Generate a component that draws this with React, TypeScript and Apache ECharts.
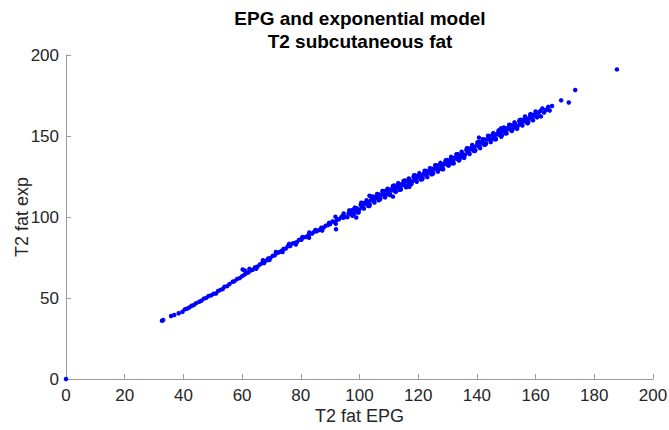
import React, { useEffect, useRef } from "react";
import * as echarts from "echarts";

const titleLines = ["EPG and exponential model", "T2 subcutaneous fat"];
const xAxisName = "T2 fat EPG";
const yAxisName = "T2 fat exp";
const xTicks = { min: 0, max: 200, interval: 20 };
const yTicks = { min: 0, max: 200, interval: 50 };

// [T2 fat EPG, T2 fat exp]
const originPoint = [[0, 0]];

const lowRange = [
  [32.7, 36.0], [33.1, 36.4], [35.8, 38.9], [36.9, 39.5], [38.4, 40.6], [39.7, 41.5],
  [40.5, 43.0], [41.2, 43.4], [42.0, 44.1], [42.8, 45.2], [43.5, 45.6], [44.3, 46.8],
  [45.4, 47.7], [46.1, 48.3], [47.0, 49.6], [47.8, 50.1], [48.6, 51.2], [49.5, 51.7],
  [50.3, 52.6], [51.1, 52.8], [51.8, 54.3], [52.6, 55.0], [53.4, 55.6], [54.0, 56.9],
  [54.9, 57.3], [55.7, 58.6], [56.8, 60.0], [57.4, 60.4], [58.3, 61.7], [59.2, 62.3],
  [60.0, 63.5],
];

const midRange = [
  [60.8, 64.4], [61.3, 65.2], [62.1, 65.7], [62.9, 67.0], [63.6, 67.4], [64.4, 68.9],
  [65.2, 69.3], [66.0, 70.6], [66.7, 71.4], [67.5, 71.6], [68.2, 73.1], [68.9, 74.4],
  [69.6, 74.6], [70.4, 76.0], [71.1, 76.3], [71.9, 77.8], [72.6, 78.2], [73.4, 79.0],
  [74.1, 80.3], [74.9, 80.6], [75.6, 81.9], [76.4, 82.1], [77.2, 83.7], [77.9, 84.0],
  [78.7, 84.6], [79.4, 85.9], [80.2, 86.0], [80.9, 87.4], [81.6, 87.6], [82.4, 88.5],
  [83.1, 89.6], [83.9, 89.8], [84.6, 91.0], [85.4, 91.2], [86.3, 92.0], [87.0, 93.4],
  [87.8, 93.5], [88.5, 94.6], [89.3, 95.0], [90.0, 95.7], [90.8, 97.3], [91.5, 96.9],
  [92.3, 98.3], [93.0, 98.6], [93.8, 99.9], [94.5, 99.5], [95.4, 100.2],
];

const midSpread = [
  [62.5, 68.0], [64.8, 68.1], [67.1, 73.3], [69.3, 73.4], [71.5, 78.4], [73.8, 78.4],
  [76.0, 83.4], [78.3, 83.0], [80.5, 87.6], [82.8, 87.2], [85.0, 92.0], [87.3, 91.6],
  [89.6, 96.4], [91.9, 95.8], [94.1, 100.5],
];

const denseRange = [
  [95.9, 99.9], [96.3, 102.3], [96.8, 102.1], [97.2, 101.8], [97.7, 104.4], [98.1, 101.9],
  [98.6, 104.4], [99.0, 105.4], [99.5, 104.7], [99.9, 104.5], [100.4, 107.6], [100.8, 106.4],
  [101.3, 105.6], [101.7, 108.0], [102.2, 109.1], [102.6, 107.9], [103.1, 109.2], [103.5, 107.6],
  [104.0, 110.7], [104.4, 110.1], [104.9, 109.8], [105.3, 112.2], [105.8, 111.8], [106.2, 111.5],
  [106.7, 113.9], [107.1, 111.4], [107.6, 113.7], [108.0, 114.7], [108.5, 113.9], [108.9, 113.6],
  [109.4, 116.7], [109.8, 115.3], [110.3, 114.5], [110.7, 116.7], [111.2, 117.8], [111.6, 116.4],
  [112.1, 117.7], [112.5, 115.9], [113.0, 119.0], [113.4, 118.3], [113.9, 117.9], [114.3, 120.3],
  [114.8, 119.9], [115.2, 119.6], [115.7, 122.0], [116.1, 119.5], [116.6, 121.8], [117.0, 122.8],
  [117.5, 121.9], [117.9, 121.7], [118.4, 124.7], [118.8, 123.3], [119.3, 122.5], [119.7, 124.7],
  [120.2, 125.7], [120.6, 124.4], [121.1, 125.6], [121.5, 123.9], [122.0, 126.9], [122.4, 126.2],
  [122.9, 125.8], [123.3, 128.1], [123.8, 127.7], [124.2, 127.4], [124.7, 129.8], [125.1, 127.2],
  [125.6, 129.6], [126.0, 130.5], [126.5, 129.7], [126.9, 129.5], [127.4, 132.6], [127.8, 131.3],
  [128.3, 130.4], [128.7, 132.7], [129.2, 133.8], [129.6, 132.5], [130.1, 133.8], [130.5, 132.1],
  [131.0, 135.1], [131.4, 134.5], [131.9, 134.1], [132.3, 136.5], [132.8, 136.2], [133.2, 135.9],
  [133.7, 138.3], [134.1, 135.8], [134.6, 138.2], [135.0, 139.2], [135.5, 138.4], [135.9, 138.3],
  [136.4, 141.4], [136.8, 140.2], [137.3, 139.4], [137.7, 141.8], [138.2, 142.9], [138.6, 141.6],
  [139.1, 143.0], [139.5, 141.3], [140.0, 144.5], [140.4, 143.9], [140.9, 143.5], [141.3, 146.0],
  [141.8, 145.7], [142.2, 145.4], [142.7, 147.9], [143.1, 145.4], [143.6, 147.8], [144.0, 148.8],
  [144.5, 148.0], [144.9, 147.8], [145.4, 150.9], [145.8, 149.5], [146.3, 148.7], [146.7, 151.0],
  [147.2, 152.1], [147.6, 150.8], [148.1, 152.1], [148.5, 150.4], [149.0, 153.5], [149.4, 152.9],
  [149.9, 152.4], [150.3, 154.8], [150.8, 154.4], [151.2, 154.1], [151.7, 156.5], [152.1, 154.0],
  [152.6, 156.3], [153.0, 157.3], [153.5, 156.4], [153.9, 156.2], [154.4, 159.2], [154.8, 157.9],
  [155.3, 157.0], [155.7, 159.3], [156.2, 160.4], [156.6, 159.1], [157.1, 160.3], [157.5, 158.6],
  [158.0, 161.7], [158.4, 161.0], [158.9, 160.6], [159.3, 163.0], [159.8, 162.7], [160.3, 162.4],
  [160.9, 164.1],
];

const spreadRange = [
  [97.0, 103.9], [99.3, 102.9], [101.0, 108.6], [102.9, 106.9], [104.7, 112.6], [106.5, 110.3],
  [108.3, 116.0], [110.0, 113.9], [111.9, 119.4], [113.7, 116.8], [115.5, 122.5], [117.3, 120.4],
  [119.0, 125.6], [120.9, 123.1], [122.7, 128.4], [124.5, 126.4], [126.3, 131.8], [128.0, 129.6],
  [129.9, 135.2], [131.7, 133.2], [133.5, 138.7], [135.3, 136.9], [137.1, 142.3], [138.9, 140.8],
  [140.7, 146.3], [142.5, 144.6], [144.3, 149.9], [146.1, 148.0], [147.9, 153.5], [149.7, 151.6],
  [151.5, 156.7], [153.3, 154.9], [155.1, 160.0], [156.9, 158.4], [158.7, 163.1], [160.5, 161.5],
];

const edgeRange = [
  [96.5, 104.1], [97.6, 100.8], [98.4, 105.8], [99.7, 102.8], [100.6, 108.8], [101.5, 105.2],
  [102.4, 110.4], [103.3, 106.7], [104.2, 112.5], [105.1, 108.9], [106.0, 114.2], [106.9, 110.7],
  [107.8, 116.1], [108.7, 112.1], [109.6, 117.4], [110.5, 113.5], [111.4, 119.2], [112.3, 115.5],
  [113.2, 120.9], [114.1, 117.0], [115.0, 122.3], [115.9, 118.4], [116.8, 123.8], [117.7, 120.4],
  [118.6, 125.8], [119.5, 121.7], [120.4, 127.1], [121.3, 123.3], [122.2, 128.6], [123.1, 124.6],
  [124.0, 130.2], [124.9, 126.5], [125.8, 131.9], [126.7, 128.0], [127.6, 133.4], [128.5, 129.5],
  [129.4, 135.0], [130.3, 131.7], [131.2, 137.1], [132.1, 133.1], [133.0, 138.7], [133.9, 134.9],
  [134.8, 140.3], [135.7, 136.5], [136.6, 142.4], [137.5, 138.9], [138.4, 144.4], [139.3, 140.7],
  [140.2, 146.2], [141.1, 142.5], [142.0, 148.0], [142.9, 144.7], [143.8, 150.2], [144.7, 146.2],
  [145.6, 151.8], [146.5, 148.0], [147.4, 153.4], [148.3, 149.5], [149.2, 155.3], [150.1, 151.6],
  [151.0, 157.0], [151.9, 153.1], [152.8, 158.4], [153.7, 154.5], [154.6, 159.9], [155.5, 156.5],
  [156.4, 162.0], [157.3, 157.9], [158.2, 163.5], [159.1, 159.7], [160.0, 165.1],
];

const outliers = [
  [60.2, 67.6], [61.0, 66.9], [82.9, 90.4], [92.0, 92.4], [91.8, 100.2], [94.6, 102.2],
  [98.9, 99.7], [103.4, 113.1], [111.4, 112.6], [117.0, 118.7], [140.7, 149.0], [148.2, 154.7],
];

const upperTail = [
  [161.8, 162.1], [161.6, 165.4], [162.3, 167.0], [162.9, 164.5], [163.6, 166.2], [164.3, 168.0],
  [164.8, 165.7], [165.6, 168.5], [168.7, 172.0], [171.3, 170.7], [173.5, 178.4], [187.7, 191.1],
];

const FONT = "'Liberation Sans', Arial, Helvetica, sans-serif";

export default function App() {
  const ref = useRef<HTMLDivElement>(null);

  useEffect(() => {
    document.body.style.margin = "0";
    if (!ref.current) return;
    const chart = echarts.init(ref.current, null, { renderer: "svg" });
    const allPoints = [
      ...originPoint,
      ...lowRange,
      ...midRange,
      ...midSpread,
      ...denseRange,
      ...spreadRange,
      ...edgeRange,
      ...outliers,
      ...upperTail,
    ];
    const axisColor = "#9a9a9a";
    const labelColor = "#262626";
    chart.setOption({
      animation: false,
      backgroundColor: "#ffffff",
      grid: {
        left: 66,
        right: 16,
        top: 55,
        bottom: 51,
        containLabel: false,
        outerBoundsMode: "none",
      },
      graphic: [
        {
          type: "text",
          x: 360,
          y: 18,
          style: {
            text: titleLines[0],
            textAlign: "center",
            textVerticalAlign: "middle",
            font: `bold 19px ${FONT}`,
            fill: "#000000",
          },
        },
        {
          type: "text",
          x: 360,
          y: 41,
          style: {
            text: titleLines[1],
            textAlign: "center",
            textVerticalAlign: "middle",
            font: `bold 19px ${FONT}`,
            fill: "#000000",
          },
        },
      ],
      xAxis: {
        type: "value",
        min: xTicks.min,
        max: xTicks.max,
        interval: xTicks.interval,
        name: xAxisName,
        nameLocation: "middle",
        nameGap: 28,
        nameMoveOverlap: false,
        nameTextStyle: { fontSize: 18, color: labelColor, fontFamily: FONT },
        axisLine: { show: true, onZero: false, lineStyle: { color: axisColor, width: 1 } },
        axisTick: { show: true, inside: true, length: 5, lineStyle: { color: axisColor } },
        axisLabel: { fontSize: 17, color: labelColor, fontFamily: FONT, margin: 8 },
        splitLine: { show: false },
      },
      yAxis: {
        type: "value",
        min: yTicks.min,
        max: yTicks.max,
        interval: yTicks.interval,
        name: yAxisName,
        nameLocation: "middle",
        nameGap: 35,
        nameMoveOverlap: false,
        nameTextStyle: { fontSize: 18, color: labelColor, fontFamily: FONT },
        axisLine: { show: true, onZero: false, lineStyle: { color: axisColor, width: 1 } },
        axisTick: { show: true, inside: true, length: 5, lineStyle: { color: axisColor } },
        axisLabel: { fontSize: 17, color: labelColor, fontFamily: FONT, margin: 7 },
        splitLine: { show: false },
      },
      series: [
        {
          type: "scatter",
          data: allPoints,
          symbol: "circle",
          symbolSize: 4.5,
          itemStyle: { color: "#0000ff", opacity: 1 },
          clip: false,
        },
      ],
    });
    return () => chart.dispose();
  }, []);

  return <div ref={ref} style={{ width: 669, height: 430 }} />;
}
